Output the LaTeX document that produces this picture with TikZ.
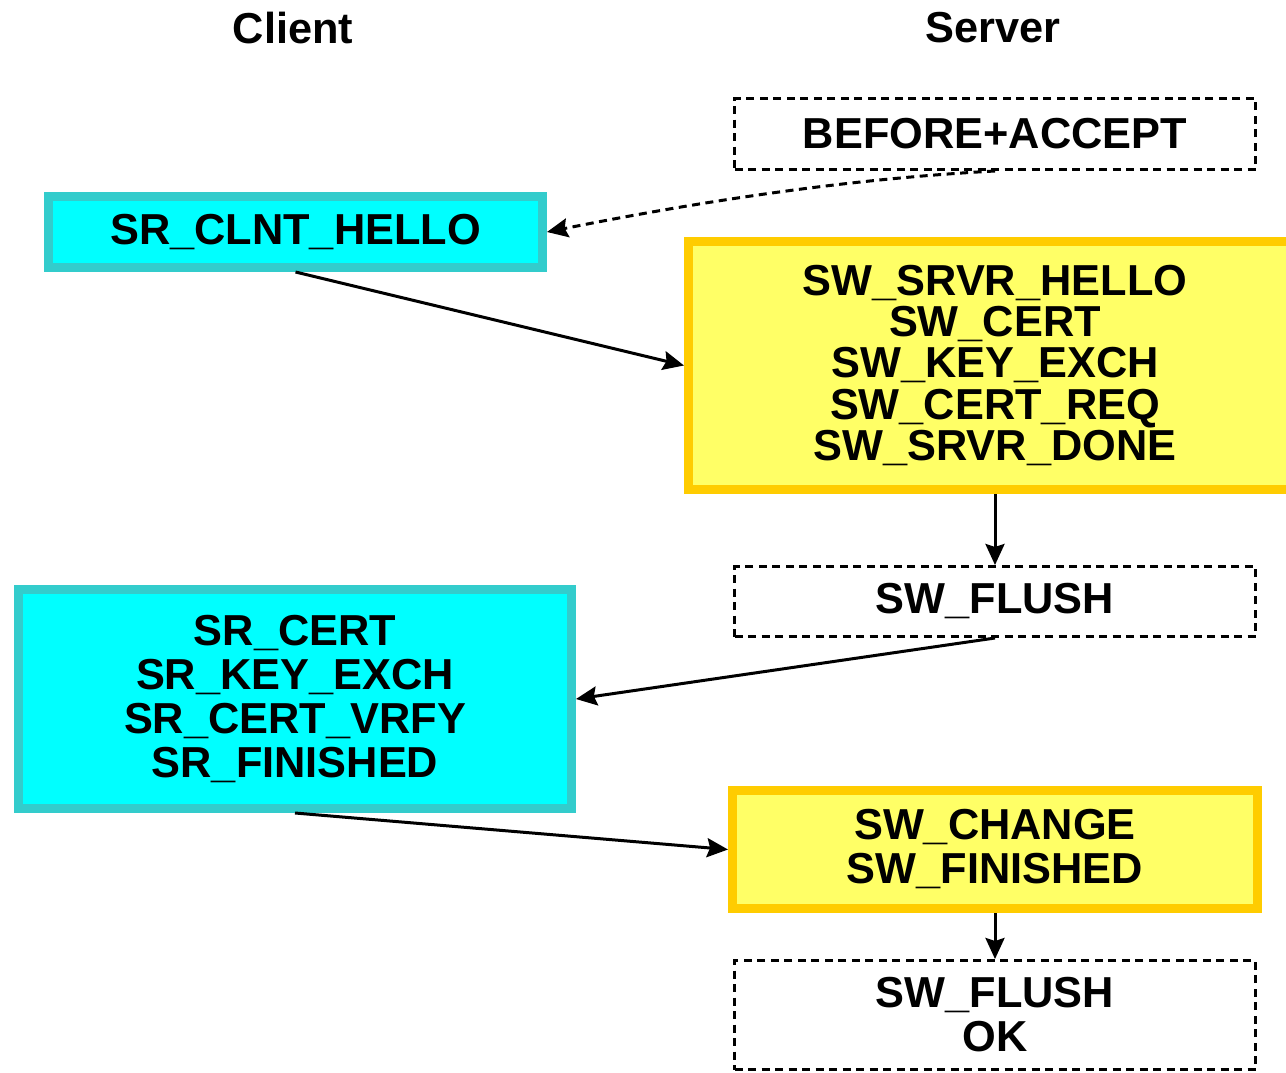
\documentclass[tikz,border=0pt]{standalone}
\usepackage{fontspec}
\setmainfont{Liberation Sans}
\usepackage{xcolor}
\usepackage{tikz}
\usetikzlibrary{arrows.meta,positioning,calc}
\definecolor{cyanfill}{HTML}{00FFFF}
\definecolor{cyanline}{HTML}{33CCCC}
\definecolor{yelfill}{HTML}{FFFF66}
\definecolor{yelline}{HTML}{FFCC00}
\def\px{0.75pt}
\tikzset{
  lbl/.style={font=\bfseries\fontsize{32.5}{33}\selectfont, align=center, inner sep=0pt},
  clientbox/.style={lbl, rectangle, fill=cyanfill, draw=cyanline, line width=9*\px},
  serverbox/.style={lbl, rectangle, fill=yelfill, draw=yelline, line width=9*\px},
  waitbox/.style={lbl, rectangle, draw=black, line width=3*\px, dash pattern=on 8*\px off 5.5*\px},
  flow/.style={->, line width=3*\px},
}

\begin{document}
\begin{tikzpicture}[x=0.75pt, y=-0.75pt, >= {Stealth[length=21*\px, width=19*\px, inset=3*\px]}]
  \useasboundingbox (0,0) rectangle (1286,1072);
  \clip (0,0) rectangle (1286,1072);

  \node[lbl] (client) at (293,28) {Client};
  \node[lbl] (server) at (993,28) {Server};

  \node[waitbox, minimum width=521*\px, minimum height=71*\px] (before) at (995,134) {BEFORE+ACCEPT};
  \node[clientbox, minimum width=494*\px, minimum height=71*\px] (clnthello) at (295.5,232) {SR\_CLNT\_HELLO};
  \node[serverbox, minimum width=613*\px, minimum height=248*\px,
        font=\bfseries\fontsize{32.5}{30.8}\selectfont] (srvrhello) at (995,365.5)
       {SW\_SRVR\_HELLO\\SW\_CERT\\SW\_KEY\_EXCH\\SW\_CERT\_REQ\\SW\_SRVR\_DONE};
  \node[waitbox, minimum width=521*\px, minimum height=70*\px] (flush) at (995,601.5) {SW\_FLUSH};
  \node[clientbox, minimum width=553*\px, minimum height=219*\px] (clntcert) at (295,699)
       {SR\_CERT\\SR\_KEY\_EXCH\\SR\_CERT\_VRFY\\SR\_FINISHED};
  \node[serverbox, minimum width=525*\px, minimum height=118*\px] (change) at (995,849.5)
       {SW\_CHANGE\\SW\_FINISHED};
  \node[waitbox, minimum width=521*\px, minimum height=109*\px] (flushok) at (995,1015)
       {SW\_FLUSH\\OK};

  % dashed one is the wait for the client
  \draw[flow, dash pattern=on 8*\px off 5.5*\px] (before.south) .. controls +(-150,8) and +(150,-30) .. (clnthello.east);
  \draw[flow] (clnthello.south) -- (srvrhello.west);
  \draw[flow] (srvrhello.south) -- (flush.north);
  \draw[flow] (flush.south) -- (clntcert.east);
  \draw[flow] (clntcert.south) -- (change.west);
  \draw[flow] (change.south) -- (flushok.north);
\end{tikzpicture}
\end{document}
